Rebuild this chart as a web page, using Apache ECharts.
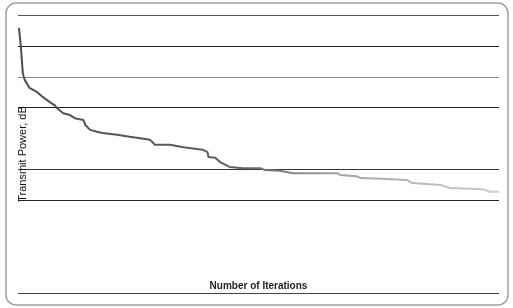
<!DOCTYPE html>
<html>
<head>
<meta charset="utf-8">
<script src="https://cdn.jsdelivr.net/npm/echarts@6/dist/echarts.min.js"></script>
<style>
    html, body { margin: 0; padding: 0; background: #fff; }
    #chart { width: 513px; height: 308px; }
</style>
</head>
<body>
<div id="chart"></div>
<script>
// iteration number
var iterations = [1, 2, 3, 4, 5, 6, 7, 12, 20, 26, 33, 38, 40, 47, 54, 59, 68, 70, 75, 82, 88,
    103, 116, 134, 137, 140, 142, 158, 172, 192, 197, 198, 205, 210, 220, 234, 252, 257,
    272, 286, 332, 335, 352, 356, 378, 379, 404, 410, 439, 449, 483, 491, 500];
// transmit power, dB
var power = [42.9, 41.4, 39.8, 37.7, 35.6, 35.0, 34.5, 33.2, 32.5, 31.7, 30.9, 30.4, 30.0, 29.1,
    28.8, 28.3, 28.0, 27.2, 26.4, 26.1, 25.9, 25.6, 25.3, 24.9, 24.8, 24.4, 24.0, 24.0, 23.6,
    23.2, 22.8, 22.0, 21.9, 21.2, 20.4, 20.2, 20.2, 19.9, 19.8, 19.4, 19.4, 19.1, 18.9, 18.6,
    18.5, 18.3, 18.3, 17.8, 17.5, 17.0, 16.8, 16.4, 16.4];
// grid line colours, one per tick from 0 dB up (transparent = line missing in the scan)
var gridColors = ['#444', 'transparent', 'transparent', '#222', '#333', 'transparent',
    '#222', '#888', '#222', '#555'];

(function () {
    var chartDom = document.getElementById("chart");
    var myChart = echarts.init(chartDom);
    var option;

    var points = iterations.map(function (it, i) { return [it, power[i]]; });

    option = {
        animation: false,
        graphic: [{
            type: 'rect',
            shape: { x: 6, y: 3, width: 502, height: 302, r: 10 },
            style: { fill: 'none', stroke: '#a0a0a0', lineWidth: 1.5 },
            z: 0
        }],
        grid: {
            left: 18,
            right: 14,
            top: 15,
            bottom: 15
        },
        xAxis: {
            type: 'value',
            min: 0,
            max: 500,
            name: 'Number of Iterations',
            nameLocation: 'middle',
            nameGap: -12,
            nameTextStyle: {
                fontFamily: 'Liberation Sans',
                fontSize: 10,
                fontWeight: 'bold',
                color: '#222'
            },
            axisLine: { show: false },
            axisTick: { show: false },
            axisLabel: { show: false },
            splitLine: { show: false }
        },
        yAxis: {
            type: 'value',
            min: 0,
            max: 45,
            interval: 5,
            name: 'Transmit Power, dB',
            nameLocation: 'middle',
            nameRotate: 90,
            nameGap: -10,
            nameTextStyle: {
                fontFamily: 'Liberation Sans',
                fontSize: 11,
                color: '#111'
            },
            axisLine: { show: false },
            axisTick: { show: false },
            axisLabel: { show: false },
            splitLine: {
                show: true,
                lineStyle: { color: gridColors, width: 1 }
            }
        },
        series: [{
            type: 'line',
            data: points,
            showSymbol: false,
            lineStyle: {
                width: 2,
                color: new echarts.graphic.LinearGradient(0, 0, 1, 0, [
                    { offset: 0, color: '#4a4f55' },
                    { offset: 0.45, color: '#5e6060' },
                    { offset: 0.65, color: '#a0a0a0' },
                    { offset: 1, color: '#cfcfcf' }
                ])
            },
            z: 3
        }]
    };

    myChart.setOption(option);
    window.addEventListener("resize", function () {
        myChart.resize();
    });
})();
</script>
</body>
</html>
